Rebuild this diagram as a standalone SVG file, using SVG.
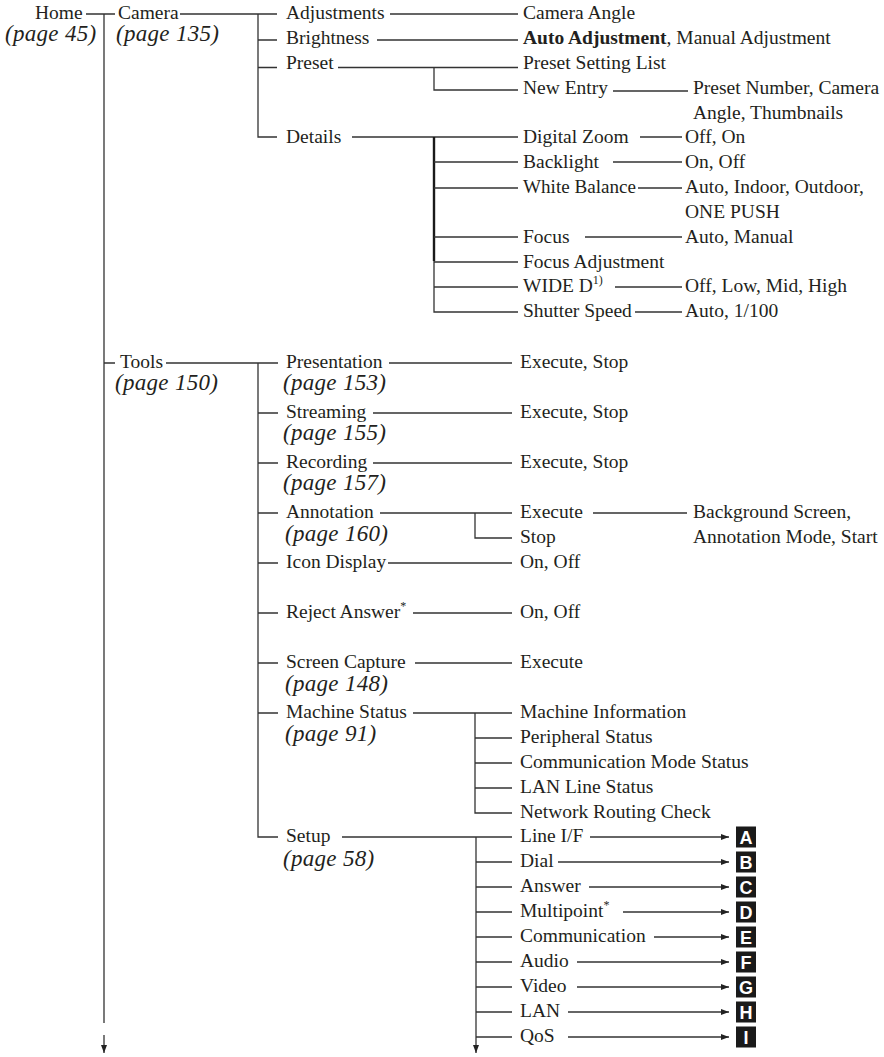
<svg xmlns="http://www.w3.org/2000/svg" width="884" height="1057" viewBox="0 0 884 1057">
<style>
.t{font-family:"Liberation Serif","Times New Roman",serif;font-size:19.5px;fill:#231f20}
.p{font-family:"Liberation Serif","Times New Roman",serif;font-style:italic;font-size:23px;fill:#231f20;letter-spacing:0.3px}
.b{font-weight:bold}
.sup{font-size:12px}
.ln{stroke:#333;stroke-width:1.3;fill:none}
.thk{stroke:#1a1a1a;stroke-width:2.4;fill:none}
.ar{stroke:#333;stroke-width:1.3;fill:none;marker-end:url(#ah)}
.bx{fill:#1a1a1a}
.bl{font-family:"Liberation Sans",Arial,sans-serif;font-weight:bold;font-size:18px;fill:#fff;text-anchor:middle}
</style>
<defs>
<marker id="ah" markerUnits="userSpaceOnUse" markerWidth="8" markerHeight="6" refX="8" refY="3" orient="auto"><path d="M0,0 L8,3 L0,6 Z" fill="#222"/></marker>
</defs>
<rect width="884" height="1057" fill="#fff"/>
<g id="connectors">
<path class="ln" d="M86,14 H115 M104,14 V1023"/>
<path class="ar" d="M104,1035 V1053"/>
<path class="ln" d="M180,14 H277 M258,14 V137 H277 M258,40 H277 M258,67.5 H277"/>
<path class="ln" d="M390,14 H518 M377,40 H518 M338,67.5 H518 M434,67.5 V90 H518 M352,137 H518"/>
<path class="thk" d="M434,137 V261"/>
<path class="ln" d="M434,261 V312 H518 M434,162 H518 M434,188 H518 M434,237 H518 M434,262 H518 M434,287 H518"/>
<path class="ln" d="M613,91 H688 M640,137 H682 M613,162 H682 M638,188 H682 M585,237 H682 M615,287 H682 M635,312 H682"/>
<path class="ln" d="M104,363 H115 M166,363 H278 M258,363 V837 H278 M258,413 H278 M258,463 H278 M258,513 H278 M258,563 H278 M258,613 H278 M258,663 H278 M258,713 H278"/>
<path class="ln" d="M389,363 H512 M373,413 H512 M373,463 H512 M380,513 H512 M475,513 V538 H512 M593,513 H687 M388,563 H512 M413,613 H512 M415,663 H512"/>
<path class="ln" d="M413,713 H512 M475,713 V813 H512 M475,738 H512 M475,763 H512 M475,788 H512"/>
<path class="ln" d="M342,837 H512 M476,862 H512 M476,887 H512 M476,912 H512 M476,937 H512 M476,962 H512 M476,987 H512 M476,1012 H512 M476,1037 H512"/>
<path class="ar" d="M476,837 V1053"/>
<path class="ar" d="M590,837 H729"/>
<path class="ar" d="M558,862 H729"/>
<path class="ar" d="M589,887 H729"/>
<path class="ar" d="M623,912 H729"/>
<path class="ar" d="M654,937 H729"/>
<path class="ar" d="M577,962 H729"/>
<path class="ar" d="M577,987 H729"/>
<path class="ar" d="M568,1012 H729"/>
<path class="ar" d="M568,1037 H729"/>
</g>
<g id="home"><text class="t" x="35" y="19">Home</text><text class="p" x="5" y="41">(page 45)</text></g>
<g id="camera"><text class="t" x="118" y="19">Camera</text><text class="p" x="116" y="41">(page 135)</text></g>
<g id="adjustments"><text class="t" x="286" y="19">Adjustments</text></g>
<g id="camera-angle"><text class="t" x="523" y="19">Camera Angle</text></g>
<g id="brightness"><text class="t" x="286" y="44">Brightness</text></g>
<g id="brightness-opts"><text class="t" x="523" y="44"><tspan class="b">Auto Adjustment</tspan>, Manual Adjustment</text></g>
<g id="preset"><text class="t" x="286" y="69">Preset</text></g>
<g id="preset-list"><text class="t" x="523" y="69">Preset Setting List</text></g>
<g id="new-entry"><text class="t" x="523" y="93.5">New Entry</text></g>
<g id="new-entry-opts"><text class="t" x="693" y="93.5">Preset Number, Camera</text><text class="t" x="693" y="118.5">Angle, Thumbnails</text></g>
<g id="details"><text class="t" x="286" y="143">Details</text></g>
<g id="digital-zoom"><text class="t" x="523" y="143">Digital Zoom</text><text class="t" x="685" y="143">Off, On</text></g>
<g id="backlight"><text class="t" x="523" y="168">Backlight</text><text class="t" x="685" y="168">On, Off</text></g>
<g id="white-balance"><text class="t" x="523" y="193" textLength="113" lengthAdjust="spacingAndGlyphs">White Balance</text><text class="t" x="685" y="193">Auto, Indoor, Outdoor,</text><text class="t" x="685" y="217.5">ONE PUSH</text></g>
<g id="focus"><text class="t" x="523" y="242.5">Focus</text><text class="t" x="685" y="242.5">Auto, Manual</text></g>
<g id="focus-adjustment"><text class="t" x="523" y="267.5">Focus Adjustment</text></g>
<g id="wide-d"><text class="t" x="523" y="292">WIDE D<tspan class="sup" dy="-8">1)</tspan></text><text class="t" x="685" y="292">Off, Low, Mid, High</text></g>
<g id="shutter-speed"><text class="t" x="523" y="317">Shutter Speed</text><text class="t" x="685" y="317">Auto, 1/100</text></g>
<g id="tools"><text class="t" x="120" y="368">Tools</text><text class="p" x="115" y="390">(page 150)</text></g>
<g id="presentation"><text class="t" x="286" y="368">Presentation</text><text class="p" x="283" y="390">(page 153)</text><text class="t" x="520" y="368">Execute, Stop</text></g>
<g id="streaming"><text class="t" x="286" y="418">Streaming</text><text class="p" x="283" y="440">(page 155)</text><text class="t" x="520" y="418">Execute, Stop</text></g>
<g id="recording"><text class="t" x="286" y="468">Recording</text><text class="p" x="283" y="490">(page 157)</text><text class="t" x="520" y="468">Execute, Stop</text></g>
<g id="annotation"><text class="t" x="286" y="518">Annotation</text><text class="p" x="285" y="541">(page 160)</text></g>
<g id="annotation-execute"><text class="t" x="520" y="518">Execute</text><text class="t" x="693" y="518">Background Screen,</text><text class="t" x="693" y="543">Annotation Mode, Start</text></g>
<g id="annotation-stop"><text class="t" x="520" y="543">Stop</text></g>
<g id="icon-display"><text class="t" x="286" y="568">Icon Display</text><text class="t" x="520" y="568">On, Off</text></g>
<g id="reject-answer"><text class="t" x="286" y="618">Reject Answer<tspan class="sup" dy="-8">*</tspan></text><text class="t" x="520" y="618">On, Off</text></g>
<g id="screen-capture"><text class="t" x="286" y="668">Screen Capture</text><text class="p" x="285" y="691">(page 148)</text><text class="t" x="520" y="668">Execute</text></g>
<g id="machine-status"><text class="t" x="286" y="718">Machine Status</text><text class="p" x="285" y="741">(page 91)</text></g>
<g id="machine-items"><text class="t" x="520" y="718">Machine Information</text><text class="t" x="520" y="743">Peripheral Status</text><text class="t" x="520" y="768">Communication Mode Status</text><text class="t" x="520" y="793">LAN Line Status</text><text class="t" x="520" y="818">Network Routing Check</text></g>
<g id="setup"><text class="t" x="286" y="842">Setup</text><text class="p" x="283" y="866">(page 58)</text></g>
<g id="setup-items">
<text class="t" x="520" y="842">Line I/F</text>
<text class="t" x="520" y="867">Dial</text>
<text class="t" x="520" y="892">Answer</text>
<text class="t" x="520" y="917">Multipoint<tspan class="sup" dy="-8">*</tspan></text>
<text class="t" x="520" y="942">Communication</text>
<text class="t" x="520" y="967">Audio</text>
<text class="t" x="520" y="992">Video</text>
<text class="t" x="520" y="1017">LAN</text>
<text class="t" x="520" y="1042">QoS</text>
</g>
<g id="box-a"><rect class="bx" x="736" y="826.5" width="20" height="21"/><text class="bl" x="746" y="843.5">A</text></g>
<g id="box-b"><rect class="bx" x="736" y="851.5" width="20" height="21"/><text class="bl" x="746" y="868.5">B</text></g>
<g id="box-c"><rect class="bx" x="736" y="876.5" width="20" height="21"/><text class="bl" x="746" y="893.5">C</text></g>
<g id="box-d"><rect class="bx" x="736" y="901.5" width="20" height="21"/><text class="bl" x="746" y="918.5">D</text></g>
<g id="box-e"><rect class="bx" x="736" y="926.5" width="20" height="21"/><text class="bl" x="746" y="943.5">E</text></g>
<g id="box-f"><rect class="bx" x="736" y="951.5" width="20" height="21"/><text class="bl" x="746" y="968.5">F</text></g>
<g id="box-g"><rect class="bx" x="736" y="976.5" width="20" height="21"/><text class="bl" x="746" y="993.5">G</text></g>
<g id="box-h"><rect class="bx" x="736" y="1001.5" width="20" height="21"/><text class="bl" x="746" y="1018.5">H</text></g>
<g id="box-i"><rect class="bx" x="736" y="1026.5" width="20" height="21"/><text class="bl" x="746" y="1043.5">I</text></g>
</svg>
